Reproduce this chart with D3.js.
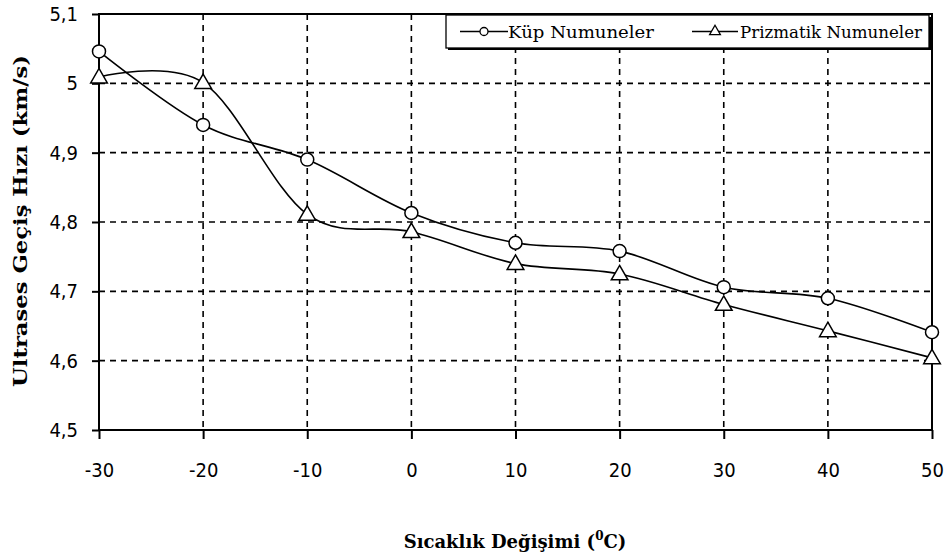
<!DOCTYPE html>
<html><head><meta charset="utf-8">
<script src="https://cdn.jsdelivr.net/npm/d3@7"></script>
<style>body{margin:0;background:#fff}svg{display:block}</style>
</head><body>
<script>
const temps = [-30,-20,-10,0,10,20,30,40,50];
const kup = [5.046,4.940,4.890,4.813,4.770,4.758,4.706,4.690,4.641];
const prizma = [5.009,5.001,4.811,4.786,4.740,4.725,4.681,4.643,4.604];
const yTicks = [4.5,4.6,4.7,4.8,4.9,5.0,5.1];
const xTicks = [-30,-20,-10,0,10,20,30,40,50];
const seriesNames = ["Küp Numuneler","Prizmatik Numuneler"];

const W=946,H=560;
const svg=d3.select("body").append("svg").attr("width",W).attr("height",H);
const L=99,R=932,T=14,B=430;
const x=d3.scaleLinear().domain([-30,50]).range([L,R]);
const y=d3.scaleLinear().domain([4.5,5.1]).range([B,T]);
const fmt=v=>String(+v.toFixed(1)).replace(".",",");
const serif="'DejaVu Serif','Liberation Serif',serif";
const narrow="'Liberation Sans Narrow','DejaVu Sans Condensed','Liberation Sans',sans-serif";

// grid
svg.append("g").selectAll("line").data(yTicks.filter(v=>v>4.5&&v<5.1)).join("line")
 .attr("x1",L).attr("x2",R).attr("y1",d=>y(d)).attr("y2",d=>y(d))
 .attr("stroke","#000").attr("stroke-width",1.6).attr("stroke-dasharray","6,5");
svg.append("g").selectAll("line").data(xTicks.filter(v=>v>-30&&v<50)).join("line")
 .attr("x1",d=>x(d)).attr("x2",d=>x(d)).attr("y1",T).attr("y2",B)
 .attr("stroke","#000").attr("stroke-width",1.6).attr("stroke-dasharray","6,5");

// frame
svg.append("rect").attr("x",L).attr("y",T).attr("width",R-L).attr("height",B-T)
 .attr("fill","none").attr("stroke","#000").attr("stroke-width",2);

// axes
const yAxis=d3.axisLeft(y).tickValues(yTicks).tickFormat(fmt).tickSize(7).tickPadding(14);
const gy=svg.append("g").attr("transform",`translate(${L},0)`).call(yAxis);
const xAxis=d3.axisBottom(x).tickValues(xTicks).tickFormat(d=>String(d)).tickSize(9).tickPadding(24);
const gx=svg.append("g").attr("transform",`translate(0,${B})`).call(xAxis);
[gy,gx].forEach(g=>{
  g.select(".domain").remove();
  g.selectAll(".tick line").attr("stroke","#000").attr("stroke-width",2);
  g.selectAll("text").attr("font-family",narrow).attr("font-size",20).attr("fill","#000");
});

// titles
const xt=svg.append("text").attr("x",515).attr("y",548).attr("text-anchor","middle")
 .attr("font-family",serif).attr("font-weight","bold").attr("font-size",18);
xt.append("tspan").text("Sıcaklık Değişimi (");
xt.append("tspan").attr("font-size",12).attr("dy",-8).text("0");
xt.append("tspan").attr("dy",8).text("C)");
svg.append("text").attr("transform","translate(27,221) rotate(-90)").attr("text-anchor","middle")
 .attr("font-family",serif).attr("font-weight","bold").attr("font-size",19)
 .attr("textLength",332).attr("lengthAdjust","spacingAndGlyphs")
 .text("Ultrases Geçiş Hızı (km/s)");

// lines
const line=d3.line().x((d,i)=>x(temps[i])).y(d=>y(d)).curve(d3.curveCardinal.tension(0));
[kup,prizma].forEach(s=>{
  svg.append("path").attr("d",line(s)).attr("fill","none").attr("stroke","#000").attr("stroke-width",1.6);
});
// markers
svg.append("g").selectAll("circle").data(kup).join("circle")
 .attr("cx",(d,i)=>x(temps[i])).attr("cy",d=>y(d)).attr("r",6.5)
 .attr("fill","#fff").attr("stroke","#000").attr("stroke-width",1.5);
const tri=d3.symbol().type(d3.symbolTriangle).size(120);
svg.append("g").selectAll("path").data(prizma).join("path")
 .attr("d",tri).attr("transform",(d,i)=>`translate(${x(temps[i])},${y(d)+1})`)
 .attr("fill","#fff").attr("stroke","#000").attr("stroke-width",1.5);

// legend
const lx=446,ly=15,lw=483,lh=33;
svg.append("rect").attr("x",lx+2).attr("y",ly+2).attr("width",lw).attr("height",lh).attr("fill","#000");
svg.append("rect").attr("x",lx).attr("y",ly).attr("width",lw).attr("height",lh).attr("fill","#fff").attr("stroke","#000").attr("stroke-width",1.3);
const lg=svg.append("g");
const cy=ly+lh/2;
lg.append("line").attr("x1",lx+14).attr("x2",lx+62).attr("y1",cy).attr("y2",cy).attr("stroke","#000").attr("stroke-width",1.6);
lg.append("circle").attr("cx",lx+38).attr("cy",cy).attr("r",4).attr("fill","#fff").attr("stroke","#000").attr("stroke-width",1.3);
lg.append("text").attr("x",lx+62).attr("y",cy+6).attr("font-family",serif).attr("font-size",17)
 .attr("textLength",146).attr("lengthAdjust","spacingAndGlyphs").text(seriesNames[0]);
lg.append("line").attr("x1",lx+246).attr("x2",lx+292).attr("y1",cy).attr("y2",cy).attr("stroke","#000").attr("stroke-width",1.6);
lg.append("path").attr("d",d3.symbol().type(d3.symbolTriangle).size(50)).attr("transform",`translate(${lx+269},${cy})`).attr("fill","#fff").attr("stroke","#000").attr("stroke-width",1.3);
lg.append("text").attr("x",lx+294).attr("y",cy+6).attr("font-family",serif).attr("font-size",17)
 .attr("textLength",182).attr("lengthAdjust","spacingAndGlyphs").text(seriesNames[1]);
</script>
</body></html>
